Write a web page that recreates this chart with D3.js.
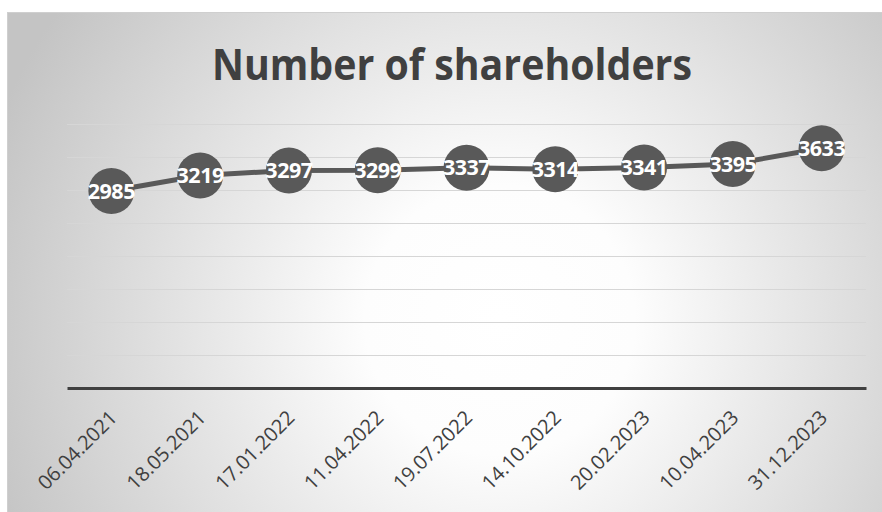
<!DOCTYPE html>
<html>
<head>
<meta charset="utf-8">
<script src="https://cdn.jsdelivr.net/npm/d3@7"></script>
<style>
    body { margin: 0; background: #ffffff; }
    text { font-family: "Open Sans", "Noto Sans", sans-serif; }
</style>
</head>
<body>
<svg id="shareholders-chart" width="882" height="512"></svg>
<script>
    // data
    var dates = ["06.04.2021", "18.05.2021", "17.01.2022", "11.04.2022", "19.07.2022",
                 "14.10.2022", "20.02.2023", "10.04.2023", "31.12.2023"];
    var shareholders = [2985, 3219, 3297, 3299, 3337, 3314, 3341, 3395, 3633];
    var yTicks = [0, 500, 1000, 1500, 2000, 2500, 3000, 3500, 4000];

    var margin = {
        top: 124,
        bottom: 124,
        left: 67,
        right: 16
    };

    var svg = d3.select("#shareholders-chart");
    var w = +svg.attr("width");
    var h = +svg.attr("height");
    var width = w - margin.left - margin.right;
    var height = h - margin.top - margin.bottom;

    // radial background like the office chart style
    var defs = svg.append("defs");
    var grad = defs.append("radialGradient")
        .attr("id", "bg")
        .attr("gradientUnits", "userSpaceOnUse")
        .attr("cx", 500)
        .attr("cy", 320)
        .attr("r", 540);
    grad.append("stop").attr("offset", "0%").attr("stop-color", "#ffffff");
    grad.append("stop").attr("offset", "25%").attr("stop-color", "#fdfdfd");
    grad.append("stop").attr("offset", "100%").attr("stop-color", "#c4c4c4");

    svg.append("rect")
        .attr("x", 7.5)
        .attr("y", 12.5)
        .attr("width", w)
        .attr("height", h)
        .attr("fill", "url(#bg)")
        .attr("stroke", "#cfcfcf");

    // title
    svg.append("text")
        .attr("x", 452)
        .attr("y", 80)
        .attr("text-anchor", "middle")
        .attr("font-size", 43)
        .attr("font-weight", "bold")
        .attr("fill", "#404040")
        .attr("textLength", 480)
        .attr("lengthAdjust", "spacingAndGlyphs")
        .text("Number of shareholders");

    var chart = svg.append("g")
        .attr("transform", "translate(" + margin.left + "," + margin.top + ")");

    var x = d3.scaleBand()
        .domain(dates)
        .range([0, width]);

    var y = d3.scaleLinear()
        .domain([0, 4000])
        .range([height, 0]);

    // gridlines (no labels on the y axis)
    var yGrid = d3.axisLeft(y)
        .tickValues(yTicks)
        .tickSize(-width)
        .tickFormat("");

    chart.append("g")
        .classed("gridline", true)
        .call(yGrid)
        .call(function(g){
            g.select(".domain").remove();
            g.selectAll("line").attr("stroke", "#d6d6d6").attr("stroke-width", 1);
        });

    // x axis: thick baseline, rotated date labels
    var xAxis = d3.axisBottom(x)
        .tickSize(0)
        .tickPadding(0);

    var xg = chart.append("g")
        .classed("x axis", true)
        .attr("transform", "translate(0," + height + ")")
        .call(xAxis);

    xg.select(".domain")
        .attr("stroke", "#404040")
        .attr("stroke-width", 3);

    xg.selectAll("text")
        .attr("font-size", 20)
        .attr("fill", "#404040")
        .attr("text-anchor", "end")
        .attr("dy", 0)
        .attr("y", 0)
        .attr("transform", "translate(7,31) rotate(-45)");

    // the line
    var line = d3.line()
        .x(function(d, i){ return x(dates[i]) + x.bandwidth() / 2; })
        .y(function(d){ return y(d); });

    chart.append("path")
        .datum(shareholders)
        .attr("fill", "none")
        .attr("stroke", "#595959")
        .attr("stroke-width", 5)
        .attr("d", line);

    // markers
    chart.selectAll(".dot")
        .data(shareholders)
        .enter()
        .append("circle")
        .classed("dot", true)
        .attr("cx", function(d, i){ return x(dates[i]) + x.bandwidth() / 2; })
        .attr("cy", function(d){ return y(d); })
        .attr("r", 23)
        .attr("fill", "#595959");

    // value labels
    chart.selectAll(".dot-label")
        .data(shareholders)
        .enter()
        .append("text")
        .classed("dot-label", true)
        .attr("x", function(d, i){ return x(dates[i]) + x.bandwidth() / 2; })
        .attr("y", function(d){ return y(d); })
        .attr("dy", "0.36em")
        .attr("text-anchor", "middle")
        .attr("font-size", 21.5)
        .attr("font-weight", "bold")
        .attr("fill", "#ffffff")
        .attr("letter-spacing", -0.5)
        .text(function(d){ return d; });
</script>
</body>
</html>
